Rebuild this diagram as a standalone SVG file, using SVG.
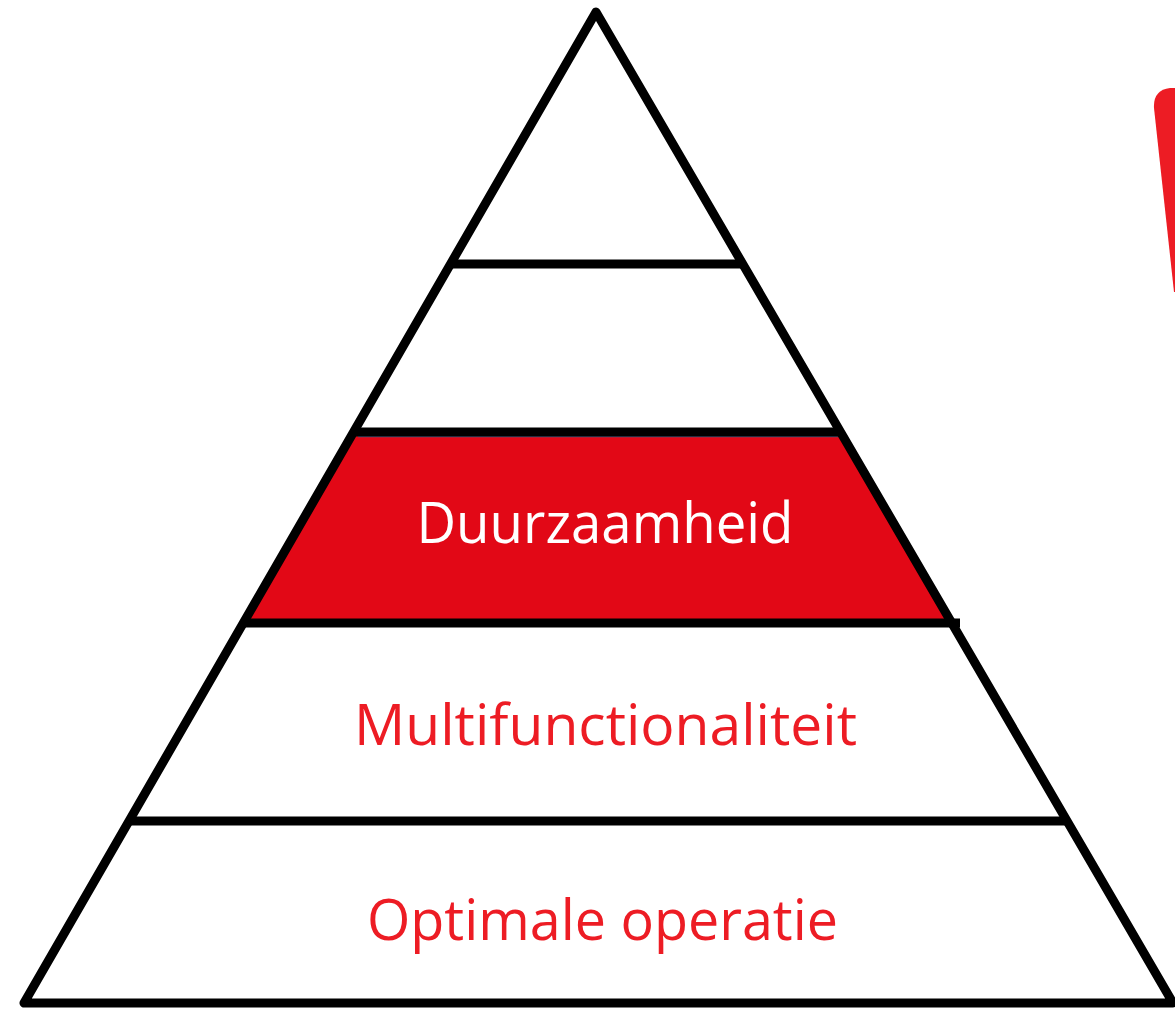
<svg xmlns="http://www.w3.org/2000/svg" width="1175" height="1009" viewBox="0 0 1175 1009">
<style>
.ln{stroke:#000;stroke-width:9;fill:none}
.lbl{font-family:"Open Sans","Noto Sans","Liberation Sans",sans-serif;font-size:56px;text-anchor:middle}
</style>
<rect width="1175" height="1009" fill="#fff"/>
<g id="accent"><path d="M1175,88 L1170,88 Q1153,90 1154,108 L1174,292 L1175,292 Z" fill="#ED1C24"/></g>
<g id="layer-duurzaamheid">
<polygon points="355,436 842,436 952,620 247,620" fill="#E20816"/>
<line x1="358" y1="436.5" x2="838" y2="436.5" stroke="#4a5a80" stroke-width="1.5"/>
<text class="lbl" x="605" y="543" fill="#fff" textLength="377" lengthAdjust="spacingAndGlyphs">Duurzaamheid</text>
</g>
<g id="pyramid">
<path class="ln" d="M596,12 L24,1003 L1173,1003 Z" stroke-linejoin="round"/>
<line class="ln" x1="452" y1="264" x2="742" y2="264"/>
<line class="ln" x1="355" y1="432" x2="840" y2="432"/>
<line class="ln" x1="245" y1="623" x2="960" y2="623"/>
<line class="ln" x1="131" y1="821" x2="1067" y2="821"/>
</g>
<g id="layer-multifunctionaliteit">
<text class="lbl" x="605.5" y="745" fill="#ED1C24" textLength="503" lengthAdjust="spacingAndGlyphs">Multifunctionaliteit</text>
</g>
<g id="layer-optimale">
<text class="lbl" x="602.5" y="940" fill="#ED1C24" textLength="471" lengthAdjust="spacingAndGlyphs">Optimale operatie</text>
</g>
</svg>
